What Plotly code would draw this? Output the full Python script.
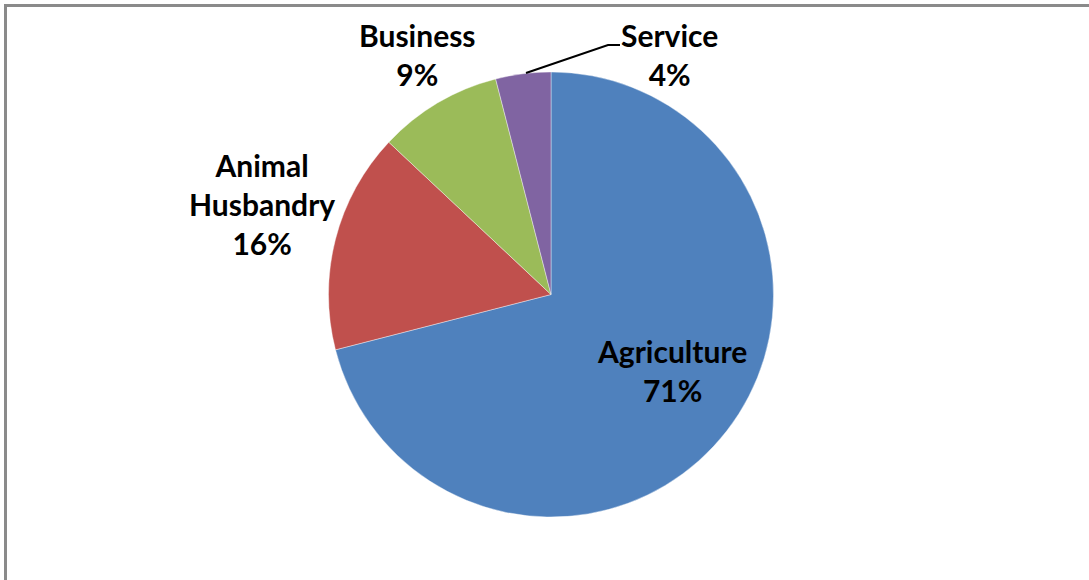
import plotly.graph_objects as go

# Data
labels = ["Agriculture", "Animal Husbandry", "Business", "Service"]
values = [71, 16, 9, 4]
colors = ["#4F81BD", "#C0504D", "#9BBB59", "#8064A2"]
label_lines = ["Agriculture", "Animal<br>Husbandry", "Business", "Service"]

W, H = 1089, 580
ML, MR, MT, MB = 328, 315, 72, 63
PW = W - ML - MR
PH = H - MT - MB

def px(x):
    return (x - ML) / PW

def py(y):
    return (H - MB - y) / PH

fig = go.Figure(go.Pie(
    labels=labels,
    values=values,
    marker=dict(colors=colors, line=dict(color="white", width=0.4)),
    sort=False,
    direction="clockwise",
    rotation=0,
    textinfo="none",
    hoverinfo="label+percent",
    showlegend=False,
))

total = sum(values)
# label positions (pixel centres of text blocks)
label_pos = {
    "Agriculture": (672, 370),
    "Animal Husbandry": (262, 204),
    "Business": (417, 55),
    "Service": (669, 55),
}
annotations = []
for lab, txt, v in zip(labels, label_lines, values):
    x, y = label_pos[lab]
    annotations.append(dict(
        x=px(x), y=py(y), xref="paper", yref="paper",
        text=f"{txt}<br>{round(100 * v / total)}%",
        showarrow=False, xanchor="center", yanchor="middle",
        font=dict(family="Lato", size=30, color="black", weight="bold"),
        align="center",
    ))

shapes = [
    # leader line for Service
    dict(type="path", xref="paper", yref="paper",
         path=f"M {px(526)},{py(73)} L {px(608)},{py(45)} L {px(620)},{py(45)}",
         line=dict(color="black", width=2)),
    # chart border (left and top)
    dict(type="line", xref="paper", yref="paper",
         x0=px(5.5), y0=py(5.5), x1=px(5.5), y1=py(H + 5),
         line=dict(color="#8a8a8a", width=3)),
    dict(type="line", xref="paper", yref="paper",
         x0=px(4), y0=py(5.5), x1=px(W + 5), y1=py(5.5),
         line=dict(color="#8a8a8a", width=3)),
]

fig.update_layout(
    width=W, height=H,
    margin=dict(l=ML, r=MR, t=MT, b=MB),
    paper_bgcolor="white",
    plot_bgcolor="white",
    annotations=annotations,
    shapes=shapes,
)

fig.write_html("out.html")
